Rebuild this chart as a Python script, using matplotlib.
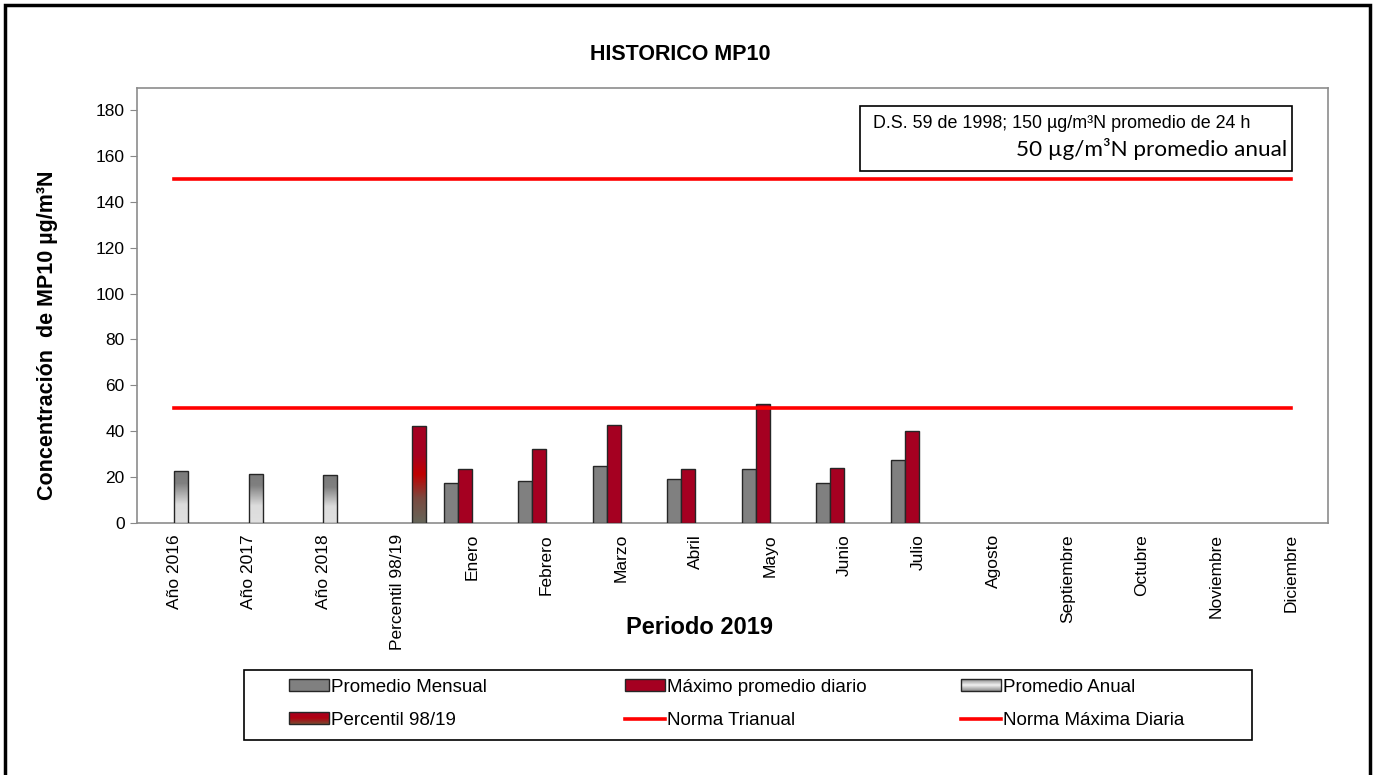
import numpy as np
import matplotlib
matplotlib.use("Agg")
import matplotlib.pyplot as plt
from matplotlib.colors import LinearSegmentedColormap
from matplotlib.patches import Rectangle
from matplotlib.lines import Line2D
from matplotlib.legend_handler import HandlerBase

plt.rcParams["font.family"] = ["Liberation Sans", "DejaVu Sans"]

categories = ["Año 2016", "Año 2017", "Año 2018", "Percentil 98/19", "Enero", "Febrero",
              "Marzo", "Abril", "Mayo", "Junio", "Julio", "Agosto", "Septiembre",
              "Octubre", "Noviembre", "Diciembre"]
# None = no bar for that category
promedio_mensual = [None, None, None, None, 17.6, 18.2, 24.7, 19.0, 23.4, 17.6, 27.5,
                    None, None, None, None, None]
maximo_diario = [None, None, None, None, 23.4, 32.4, 42.9, 23.4, 51.9, 24.0, 40.2,
                 None, None, None, None, None]
promedio_anual = [22.8, 21.4, 20.8, None, None, None, None, None, None, None, None,
                  None, None, None, None, None]
percentil = [None, None, None, 42.3, None, None, None, None, None, None, None,
             None, None, None, None, None]
norma_trianual = 50
norma_maxima_diaria = 150

C_MENSUAL = "#808080"
C_MAXIMO = "#a50021"
C_NORMA = "#ff0000"
cmap_anual = LinearSegmentedColormap.from_list(
    "anual", [(0, "#e0e0e0"), (0.35, "#dcdcdc"), (0.75, "#808080"), (1, "#7a7a7a")])
cmap_perc = LinearSegmentedColormap.from_list(
    "perc", [(0, "#66665a"), (0.25, "#7a4a40"), (0.5, "#c00000"), (0.7, "#a50021"), (1, "#a50021")])

W, H = 1375, 775
fig = plt.figure(figsize=(W / 100, H / 100), dpi=100)
ax = fig.add_axes([137 / W, 1 - 523 / H, (1328 - 137) / W, (523 - 88) / H])

x = np.arange(len(categories))
w = 0.188
ymax = 180 * (523 - 88) / (523 - 110)


def draw_bars(vals, offset, color=None, cmap=None):
    for xi, v in zip(x, vals):
        if v is None:
            continue
        if cmap is None:
            ax.bar(xi + offset, v, w, color=color, edgecolor="#262626", linewidth=1.0, zorder=3)
        else:
            b = ax.bar(xi + offset, v, w, facecolor="none", edgecolor="#262626",
                       linewidth=1.0, zorder=4)[0]
            grad = np.linspace(0, 1, 200).reshape(-1, 1)
            im = ax.imshow(grad, cmap=cmap, origin="lower", aspect="auto",
                           extent=(xi + offset - w / 2, xi + offset + w / 2, 0, v), zorder=3)
            im.set_clip_path(b)


draw_bars(promedio_mensual, -1.5 * w, color=C_MENSUAL)
draw_bars(maximo_diario, -0.5 * w, color=C_MAXIMO)
draw_bars(promedio_anual, 0.5 * w, cmap=cmap_anual)
draw_bars(percentil, 1.5 * w, cmap=cmap_perc)

ax.plot([x[0], x[-1]], [norma_trianual] * 2, color=C_NORMA, lw=2.6, zorder=5)
ax.plot([x[0], x[-1]], [norma_maxima_diaria] * 2, color=C_NORMA, lw=2.6, zorder=5)

ax.set_xlim(-0.5, len(categories) - 0.5)
ax.set_ylim(0, ymax)
ax.set_yticks(np.arange(0, 181, 20))
ax.tick_params(axis="y", labelsize=12.5, length=5, color="#888888", pad=4)
ax.set_xticks(x)
ax.set_xticklabels(categories, rotation=90, fontsize=12.5)
ax.tick_params(axis="x", length=0, pad=8)
for s in ax.spines.values():
    s.set_color("#8c8c8c")
    s.set_linewidth(1.2)

fig.text(680 / W, 1 - 55 / H, "HISTORICO MP10", ha="center", va="center",
         fontsize=15.5, fontweight="bold")
fig.text(700 / W, 1 - 628 / H, "Periodo 2019", ha="center", va="center",
         fontsize=17, fontweight="bold")
fig.text(48 / W, 1 - 335 / H, "Concentración  de MP10 µg/m³N", ha="center", va="center",
         rotation=90, fontsize=15.5, fontweight="bold")

# norm box
fig.patches.append(Rectangle((860 / W, 1 - 171 / H), 432 / W, 65 / H, transform=fig.transFigure,
                             facecolor="white", edgecolor="black", lw=1.2, zorder=6))
fig.text(873 / W, 1 - 123 / H, "D.S. 59 de 1998; 150 µg/m³N promedio de 24 h",
         ha="left", va="center", fontsize=12.9, zorder=7)
fig.text(1287 / W, 1 - 149 / H, "50 µg/m³N promedio anual", ha="right", va="center",
         fontsize=16.2, family=["Lato", "DejaVu Sans"], zorder=7)

# outer frame
fig.patches.append(Rectangle((5 / W, -0.05), 1365 / W, 1 - 5 / H + 0.05, transform=fig.transFigure,
                             facecolor="none", edgecolor="black", lw=2.5))


class GradientHandler(HandlerBase):
    def __init__(self, cmap):
        super().__init__()
        self.cmap = cmap

    def create_artists(self, legend, orig_handle, xdescent, ydescent, width, height,
                       fontsize, trans):
        n = 12
        arts = []
        for i in range(n):
            arts.append(Rectangle((-xdescent, -ydescent + height * i / n), width, height / n,
                                  facecolor=self.cmap((i + 0.5) / n), edgecolor="none",
                                  transform=trans))
        arts.append(Rectangle((-xdescent, -ydescent), width, height, facecolor="none",
                              edgecolor="#262626", lw=1.0, transform=trans))
        return arts


cmap_leg_anual = LinearSegmentedColormap.from_list(
    "la", [(0, "#8a8a8a"), (0.5, "#f0f0f0"), (1, "#8a8a8a")])
cmap_leg_perc = LinearSegmentedColormap.from_list(
    "lp", [(0, "#7a4a30"), (0.5, "#b00010"), (1, "#a50021")])

h_mensual = Rectangle((0, 0), 1, 1, facecolor=C_MENSUAL, edgecolor="#262626", lw=1.0)
h_maximo = Rectangle((0, 0), 1, 1, facecolor=C_MAXIMO, edgecolor="#262626", lw=1.0)
h_anual = Rectangle((0, 0), 1, 1)
h_perc = Rectangle((0, 0), 1, 1)
h_tri = Line2D([], [], color=C_NORMA, lw=2.6)
h_max = Line2D([], [], color=C_NORMA, lw=2.6)
hmap = {h_anual: GradientHandler(cmap_leg_anual), h_perc: GradientHandler(cmap_leg_perc)}

# legend frame, then one legend per column at fixed positions
fig.patches.append(Rectangle((244 / W, 1 - 740 / H), 1008 / W, 70 / H, transform=fig.transFigure,
                             facecolor="white", edgecolor="black", lw=1.2, zorder=1))
columns = [([h_mensual, h_perc], ["Promedio Mensual", "Percentil 98/19"], 289),
           ([h_maximo, h_tri], ["Máximo promedio diario", "Norma Trianual"], 625),
           ([h_anual, h_max], ["Promedio Anual", "Norma Máxima Diaria"], 961)]
for hs, ls, xpx in columns:
    lg = fig.legend(hs, ls, loc="center left", bbox_to_anchor=(xpx / W, 1 - 704 / H),
                    fontsize=13.5, frameon=False, handlelength=2.15, handleheight=0.6,
                    handletextpad=0.1, borderaxespad=0, borderpad=0, labelspacing=0.85,
                    handler_map=hmap)
    lg.set_zorder(2)

fig.savefig("out.png", dpi=100)
